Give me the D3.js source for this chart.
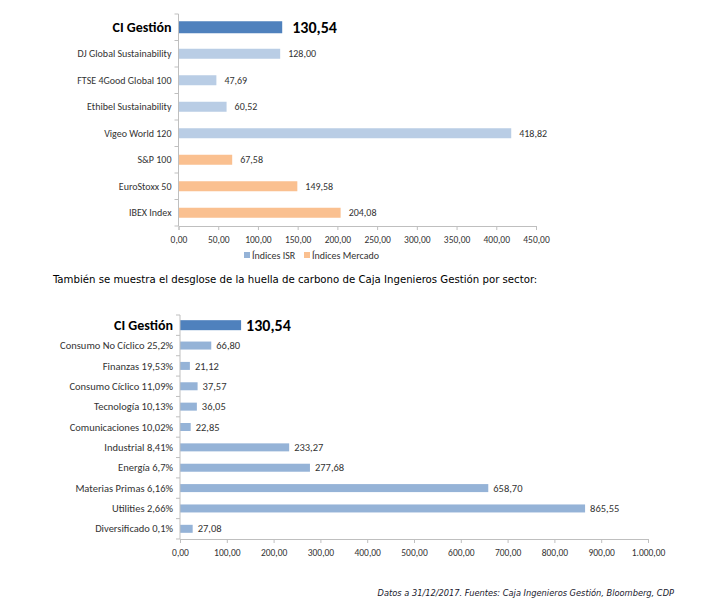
<!DOCTYPE html>
<html><head><meta charset="utf-8">
<script src="https://cdn.jsdelivr.net/npm/d3@7"></script>
<style>
body{margin:0;background:#fff;}
svg{display:block;}
</style></head>
<body>
<svg id="c" width="728" height="607"></svg>
<script>
// ---- Data ----
const cats1 = ["CI Gestión","DJ Global Sustainability","FTSE 4Good Global 100","Ethibel Sustainability","Vigeo World 120","S&P 100","EuroStoxx 50","IBEX Index"];
const vals1 = [130.54,128.00,47.69,60.52,418.82,67.58,149.58,204.08];
const group1 = ["ci","isr","isr","isr","isr","mkt","mkt","mkt"];
const ticks1 = [0,50,100,150,200,250,300,350,400,450];
const legend1 = ["Índices ISR","Índices Mercado"];

const cats2 = ["CI Gestión","Consumo No Cíclico 25,2%","Finanzas 19,53%","Consumo Cíclico 11,09%","Tecnología 10,13%","Comunicaciones 10,02%","Industrial 8,41%","Energía 6,7%","Materias Primas 6,16%","Utilities 2,66%","Diversificado 0,1%"];
const vals2 = [130.54,66.80,21.12,37.57,36.05,22.85,233.27,277.68,658.70,865.55,27.08];
const ticks2 = [0,100,200,300,400,500,600,700,800,900,1000];

const midText = "También se muestra el desglose de la huella de carbono de Caja Ingenieros Gestión por sector:";
const footText = "Datos a 31/12/2017. Fuentes: Caja Ingenieros Gestión, Bloomberg, CDP";

// ---- Styles ----
const colors = {ci:"#4f81bd", isr:"#b9cde5", mkt:"#fac090", sector:"#95b3d7", legIsr:"#95b3d7"};
const FONT = "Carlito, Lato, 'Open Sans', sans-serif";
const axisColor = "#bfbfbf";
const textColor = "#333333";

const loc = d3.formatLocale({decimal:",", thousands:".", grouping:[3], currency:["","€"]});
const fmt = loc.format(",.2f");

const svg = d3.select("#c");

function drawChart(opt){
  const g = svg.append("g");
  const x = d3.scaleLinear().domain(opt.domain).range(opt.xr);
  const y = d3.scaleBand().domain(opt.cats).range(opt.yr);
  const bw = y.bandwidth();
  const x0 = x(0);

  g.selectAll("rect.bar").data(opt.cats).enter().append("rect")
    .attr("x", x0)
    .attr("y", (d,i)=> y(d) + bw/2 - (i===0 ? opt.ciH : opt.barH)/2)
    .attr("width", (d,i)=> x(opt.vals[i]) - x0)
    .attr("height", (d,i)=> i===0 ? opt.ciH : opt.barH)
    .attr("fill", (d,i)=> opt.color(i));

  const xa = d3.axisBottom(x).tickValues(opt.ticks).tickFormat(fmt).tickSize(4).tickPadding(6);
  const gx = g.append("g").attr("transform", `translate(0,${opt.yr[1]})`).call(xa);
  gx.select(".domain").attr("stroke", axisColor);
  gx.selectAll(".tick line").attr("stroke", axisColor);
  gx.selectAll("text").attr("fill", textColor).style("font-family", FONT).style("font-size", "9.5px");

  g.append("line").attr("x1", x0).attr("x2", x0).attr("y1", opt.yr[0]).attr("y2", opt.yr[1]).attr("stroke", axisColor);
  const bounds = opt.cats.map(d=>y(d)).concat([opt.yr[1]]);
  g.selectAll("line.yt").data(bounds).enter().append("line")
    .attr("x1", x0-4).attr("x2", x0).attr("y1", d=>d).attr("y2", d=>d).attr("stroke", axisColor);

  g.selectAll("text.cat").data(opt.cats).enter().append("text")
    .attr("x", x0 - 7)
    .attr("y", d=> y(d) + bw/2)
    .attr("dy", "0.35em")
    .attr("text-anchor", "end")
    .style("font-family", FONT)
    .style("font-size", (d,i)=> i===0 ? "14px" : opt.fs)
    .style("font-weight", (d,i)=> i===0 ? "bold" : "normal")
    .attr("fill", (d,i)=> i===0 ? "#000" : textColor)
    .text(d=>d);

  g.selectAll("text.val").data(opt.cats).enter().append("text")
    .attr("x", (d,i)=> x(opt.vals[i]) + (i===0 ? opt.ciOff : opt.valOff))
    .attr("y", d=> y(d) + bw/2)
    .attr("dy", "0.35em")
    .style("font-family", FONT)
    .style("font-size", (d,i)=> i===0 ? "16px" : opt.fs)
    .style("font-weight", (d,i)=> i===0 ? "bold" : "normal")
    .attr("fill", (d,i)=> i===0 ? "#000" : textColor)
    .text((d,i)=> fmt(opt.vals[i]));
  return g;
}

drawChart({
  cats: cats1, vals: vals1, domain:[0,450], ticks: ticks1,
  xr:[178.5,536], yr:[14,226], barH:10, ciH:12, valOff:8, ciOff:10, fs:"10px",
  color: i => colors[group1[i]]
});

const lg = svg.append("g");
const legColors = [colors.legIsr, colors.mkt];
const legX = [244, 304];
legend1.forEach((t,i)=>{
  lg.append("rect").attr("x", legX[i]).attr("y", 252).attr("width", 6).attr("height", 6).attr("fill", legColors[i]);
  lg.append("text").attr("x", legX[i]+8).attr("y", 255).attr("dy","0.35em")
    .style("font-family", FONT).style("font-size","10px").attr("fill", textColor).text(t);
});

svg.append("text").attr("x", 53).attr("y", 283)
  .style("font-family", "'Liberation Sans Narrow', 'DejaVu Sans Condensed', sans-serif")
  .style("font-size", "11.3px").attr("fill", "#000")
  .text(midText);

drawChart({
  cats: cats2, vals: vals2, domain:[0,1000], ticks: ticks2,
  xr:[180,648], yr:[315,539], barH:8, ciH:10, valOff:5, ciOff:5, fs:"10.5px",
  color: i => i===0 ? colors.ci : colors.sector
});

svg.append("text").attr("x", 674).attr("y", 596).attr("text-anchor","end")
  .style("font-family", "'Liberation Sans Narrow', 'DejaVu Sans Condensed', sans-serif")
  .style("font-style","italic").style("font-size","9.2px").attr("fill","#1a1a2e")
  .text(footText);
</script>
</body></html>
